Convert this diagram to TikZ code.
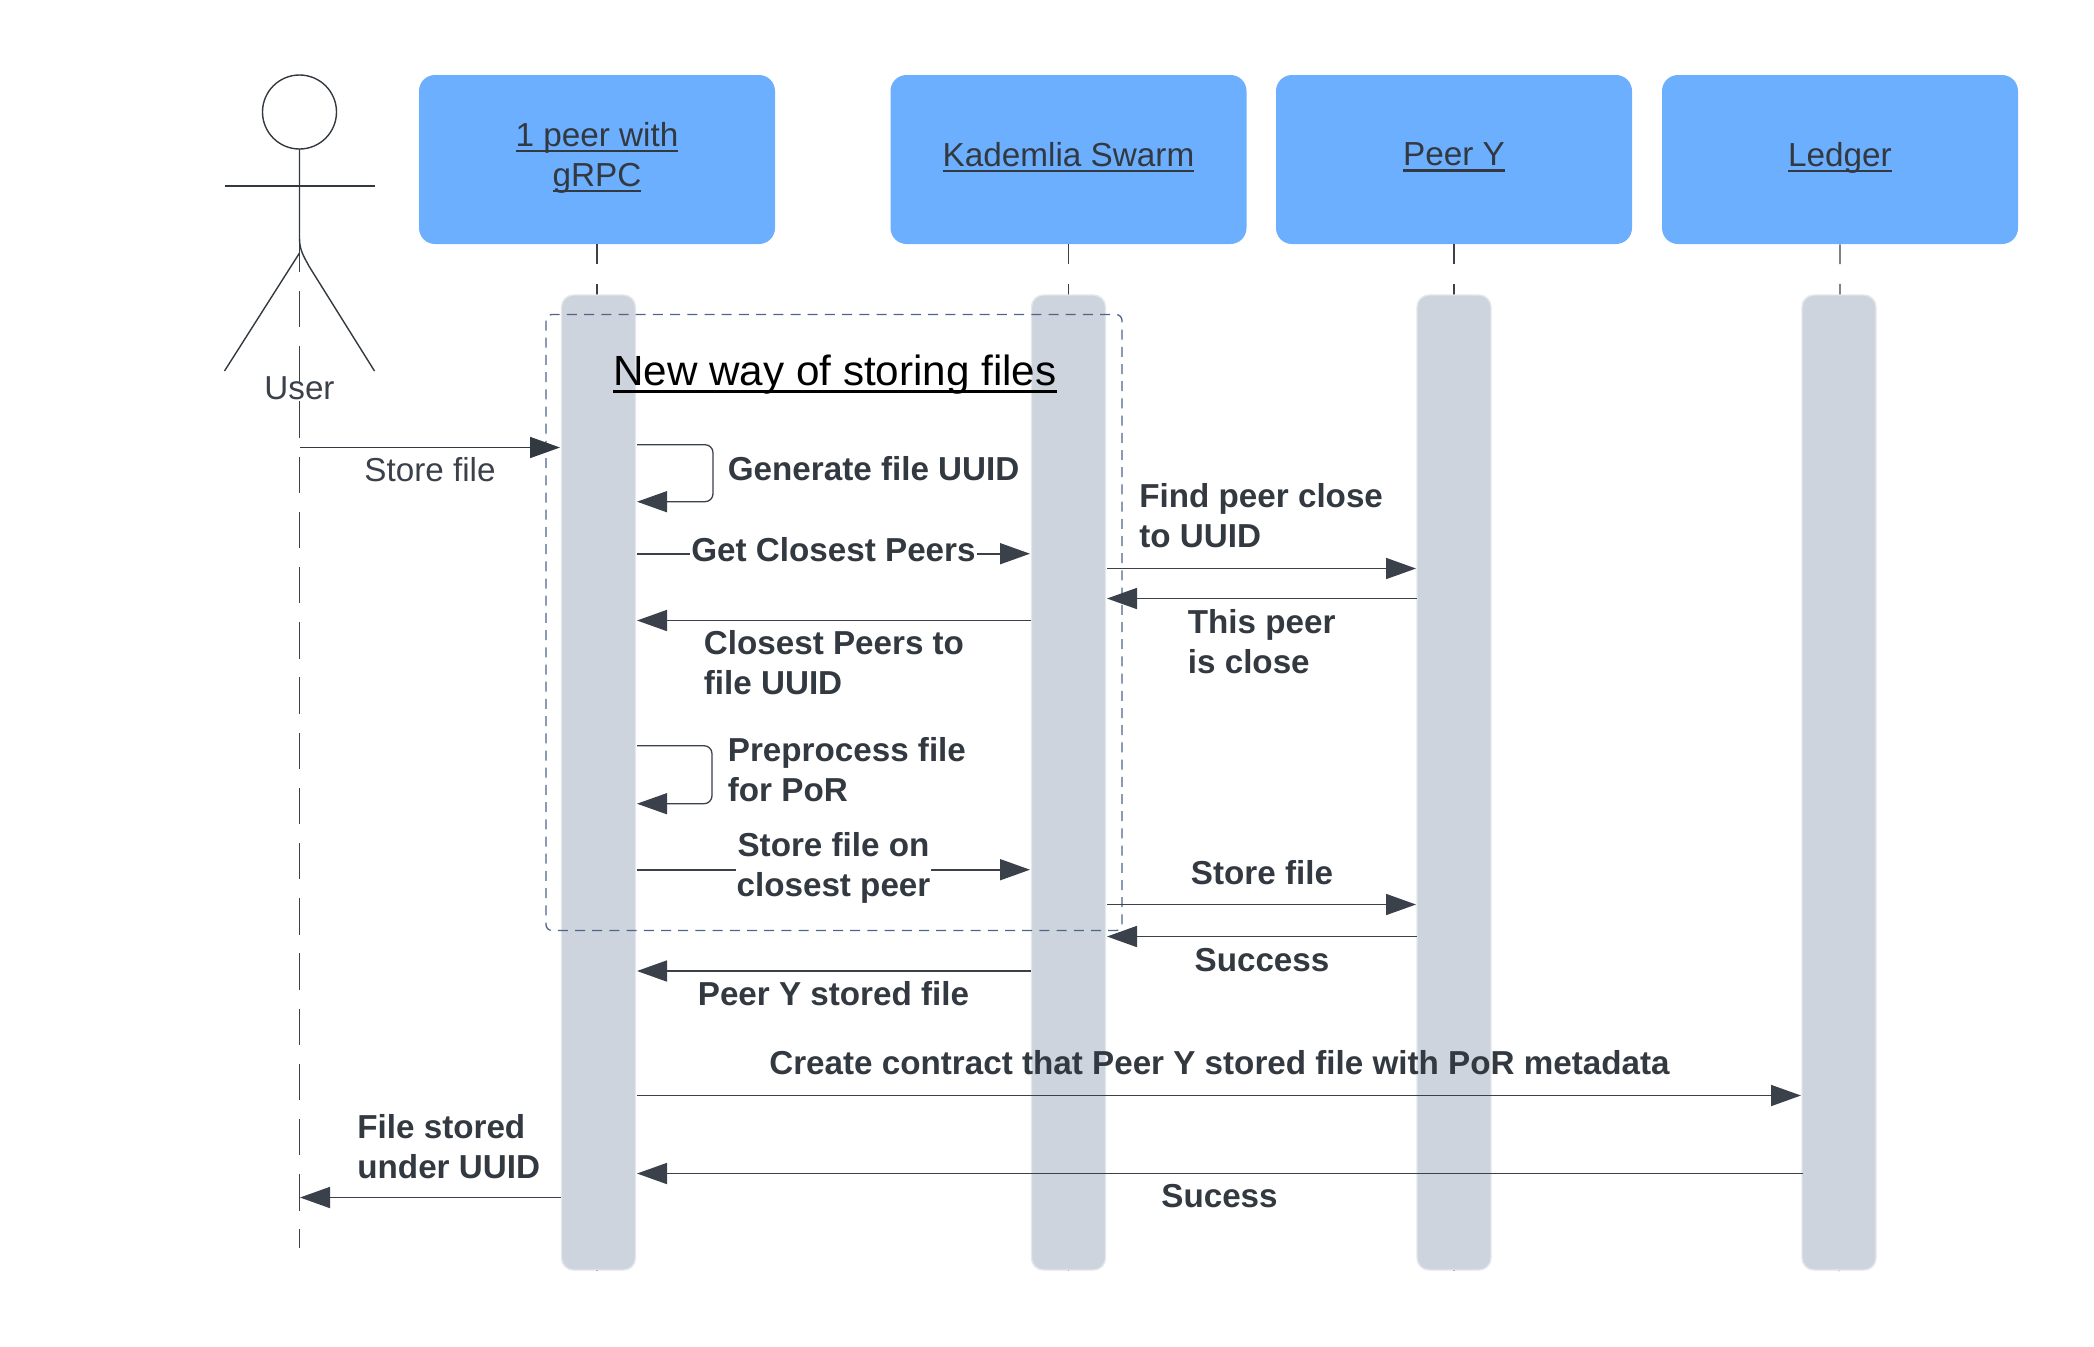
\documentclass[tikz,border=0pt]{standalone}
\usepackage{fontspec}
\setmainfont{Liberation Sans}
\usetikzlibrary{arrows.meta}

\definecolor{boxblue}{HTML}{6CAFFF}
\definecolor{barfill}{HTML}{CDD4DD}
\definecolor{barline}{HTML}{E4E7EB}
\definecolor{inkdark}{HTML}{3A414A}
\definecolor{inktext}{HTML}{333940}
\definecolor{framegray}{HTML}{4F6488}

\newcommand{\lifeul}[1]{\setbox0\hbox{#1}\rlap{\copy0}\rule[-.17em]{\wd0}{.08em}}

\tikzset{
    actor/.pic={
        \draw (0,0) circle [radius=37];
        \draw (0,37) -- (0,126) .. controls (0,138) and (4,144) .. (10,155) -- (75,259);
        \draw (-75,74) -- (75,74);
        \draw (0,141) -- (-75,259);
    },
    lifebox/.style={fill=boxblue, rounded corners=8pt, minimum width=178pt, minimum height=84.5pt,
        align=center, text=inktext, inner sep=0pt, font=\fontsize{16.65}{20}\selectfont,
        execute at end node=\rule[-5pt]{0pt}{0pt}},
    lifebar/.style={fill=barfill, draw=barline, line width=0.7pt, rounded corners=6pt, minimum width=37pt,
        minimum height=487.5pt, inner sep=0pt},
    lifeline/.style={draw=inkdark, line width=0.55pt, dash pattern=on 9.85pt off 9.88pt},
    userline/.style={draw=inkdark, line width=0.5pt, dash pattern=on 18.2pt off 9.4pt},
    msg/.style={draw=inkdark, line width=0.85pt, -{Triangle[length=15pt,width=10.5pt]}},
    selfmsg/.style={draw=inkdark, line width=0.65pt, rounded corners=4pt, -{Triangle[length=15pt,width=10.5pt]}},
    boldlabel/.style={text=inktext, inner sep=0pt, align=left, font=\fontsize{16.6}{20}\bfseries\selectfont},
    plainlabel/.style={text=inkdark, inner sep=0pt, font=\fontsize{16.6}{20}\selectfont},
}

\begin{document}
\begin{tikzpicture}[x=0.5pt,y=-0.5pt]
    \useasboundingbox (0,0) rectangle (2094,1346);
    %heads
    \node[lifebox] (peerbox) at (597,159.5) {\lifeul{1 peer with}\\\lifeul{gRPC}};
    \node[lifebox] (swarmbox) at (1068.5,159.5) {\lifeul{Kademlia Swarm}};
    \node[lifebox] (ybox) at (1454,159.5) {\lifeul{Peer Y}};
    \node[lifebox] (ledgerbox) at (1840,159.5) {\lifeul{Ledger}};
    \coordinate (peerend) at (597,1271);
    \coordinate (swarmend) at (1068.5,1271);
    \coordinate (yend) at (1454,1271);
    \coordinate (ledgerend) at (1839,1271);
    \draw[lifeline] (peerbox.south) -- (peerend);
    \draw[lifeline] (swarmbox.south) -- (swarmend);
    \draw[lifeline] (ybox.south) -- (yend);
    \draw[lifeline] (ledgerbox.south) -- (ledgerend);
    %user
    \coordinate (usertop) at (299,235.7);
    \coordinate (userend) at (299,1248);
    \draw[userline] (usertop) -- (userend);
    \pic[draw=inktext, line width=0.7pt] at (299.5,112) {actor};
    \node[plainlabel] (username) at (299.5,388) {User};
    %bars
    \node[lifebar] (peerbar) at (598.5,782.5) {};
    \node[lifebar] (swarmbar) at (1068.5,782.5) {};
    \node[lifebar] (ybar) at (1454,782.5) {};
    \node[lifebar] (ledgerbar) at (1839,782.5) {};
    %frame
    \draw[draw=framegray, line width=0.65pt, dash pattern=on 5pt off 3.6pt, rounded corners=3pt]
        (546,314.5) rectangle (1122,930.5);
    \node[text=black, inner sep=0pt, font=\fontsize{21.1}{25}\selectfont] (framename) at (835,375) {\lifeul{New way of storing files}};
    %store file
    \coordinate (storeout) at (300,447.5); \coordinate (storein) at (560,447.5);
    \draw[msg, draw=inktext] (storeout) -- (storein);
    \node[plainlabel] (storename) at (430,470) {Store file};
    %uuid
    \coordinate (genout) at (637,444.7); \coordinate (genin) at (637,501.7);
    \draw[selfmsg] (genout) -- ++(76,0) |- (genin);
    \node[boldlabel, anchor=west] (genname) at (727.5,469) {Generate file UUID};
    %closest
    \coordinate (getout) at (637,553.7); \coordinate (getin) at (1030,553.7);
    \draw[msg] (getout) -- (getin);
    \node[boldlabel, fill=white, inner xsep=0.5pt] (getname) at (833.5,549.5) {Get Closest Peers};
    \coordinate (closeout) at (1031,620.5); \coordinate (closein) at (637,620.5);
    \draw[msg] (closeout) -- (closein);
    \node[boldlabel, anchor=west] (closename) at (703.5,662.5) {Closest Peers to\\file UUID};
    %find
    \coordinate (findout) at (1107,568.5); \coordinate (findin) at (1416,568.5);
    \draw[msg] (findout) -- (findin);
    \node[boldlabel, anchor=west] (findname) at (1139,516) {Find peer close\\to UUID};
    \coordinate (thisout) at (1417,598.5); \coordinate (thisin) at (1107,598.5);
    \draw[msg] (thisout) -- (thisin);
    \node[boldlabel, anchor=west] (thisname) at (1187.5,642) {This peer\\is close};
    %por
    \coordinate (preout) at (637,745.7); \coordinate (prein) at (637,803.7);
    \draw[selfmsg] (preout) -- ++(75,0) |- (prein);
    \node[boldlabel, anchor=west] (prename) at (727.5,770) {Preprocess file\\for PoR};
    %store on peer
    \coordinate (onout) at (637,869.7); \coordinate (onin) at (1030,869.7);
    \draw[msg] (onout) -- (onin);
    \node[boldlabel, align=center, fill=white, inner xsep=0.5pt] (onname) at (833.5,867.5) {Store file on\\closest peer};
    \coordinate (putout) at (1107,904.5); \coordinate (putin) at (1416,904.5);
    \draw[msg] (putout) -- (putin);
    \node[boldlabel] (putname) at (1262,872.5) {Store file};
    \coordinate (okout) at (1417,936.5); \coordinate (okin) at (1107,936.5);
    \draw[msg] (okout) -- (okin);
    \node[boldlabel] (okname) at (1262,960) {Success};
    \coordinate (doneout) at (1031,971); \coordinate (donein) at (637,971);
    \draw[msg] (doneout) -- (donein);
    \node[boldlabel] (donename) at (833.5,994) {Peer Y stored file};
    %contract
    \coordinate (dealout) at (637,1095.5); \coordinate (dealin) at (1801,1095.5);
    \draw[msg] (dealout) -- (dealin);
    \node[boldlabel] (dealname) at (1219.5,1063) {Create contract that Peer Y stored file with PoR metadata};
    \coordinate (backout) at (1803,1173.5); \coordinate (backin) at (637,1173.5);
    \draw[msg] (backout) -- (backin);
    \node[boldlabel] (backname) at (1219.5,1196) {Sucess};
    \coordinate (userout) at (561,1197.5); \coordinate (userin) at (300,1197.5);
    \draw[msg] (userout) -- (userin);
    \node[boldlabel, anchor=west] (userback) at (357,1146.5) {File stored\\under UUID};
\end{tikzpicture}
\end{document}
